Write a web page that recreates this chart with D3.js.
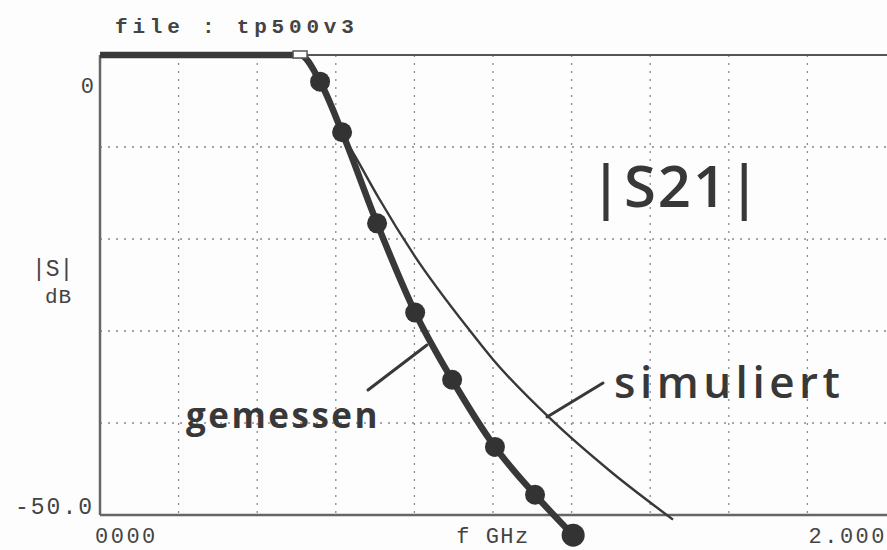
<!DOCTYPE html>
<html>
<head>
<meta charset="utf-8">
<script src="https://cdn.jsdelivr.net/npm/d3@7"></script>
<style>
  body { margin: 0; background: #fdfdfd; }
  svg { display: block; }
</style>
</head>
<body>
<script>
// measured |S21| (thick line with dots)
var measFreq = [0, 0.509, 0.56, 0.616, 0.705, 0.802, 0.896, 1.005, 1.107, 1.204];
var measDb   = [0, 0, -2.9, -8.4, -18.3, -28.0, -35.3, -42.6, -47.8, -52.2];
var measDots = [2, 3, 4, 5, 6, 7, 8, 9]; // indices that carry a dot

// simulated |S21| (thin line)
var simFreq = [0, 0.509, 0.54, 0.58, 0.616, 0.66, 0.71, 0.80, 0.94, 1.00, 1.15, 1.30, 1.458];
var simDb   = [0, 0, -1.5, -4.6, -8.4, -11.8, -15.6, -21.8, -29.9, -33.1, -39.7, -45.3, -50.5];

var xTicks = [0, 0.2, 0.4, 0.6, 0.8, 1.0, 1.2, 1.4, 1.6, 1.8, 2.0];
var yTicks = [0, -10, -20, -30, -40, -50];

var width = 887, height = 550;
var ink = "#383838";

var svg = d3.select("body").append("svg")
    .attr("width", width)
    .attr("height", height);

var x = d3.scaleLinear().domain([0, 2]).range([100, 886]);
var y = d3.scaleLinear().domain([0, -50]).range([55, 515]);

// dotted grid
svg.append("g").selectAll("line.v")
    .data(xTicks.slice(1, -1))
  .enter().append("line")
    .attr("x1", d => x(d)).attr("x2", d => x(d))
    .attr("y1", y(0)).attr("y2", y(-50))
    .attr("stroke", "#8a8a8a")
    .attr("stroke-width", 1.3)
    .attr("stroke-dasharray", "2,6");

svg.append("g").selectAll("line.h")
    .data(yTicks.slice(1, -1))
  .enter().append("line")
    .attr("x1", x(0)).attr("x2", x(2))
    .attr("y1", d => y(d)).attr("y2", d => y(d))
    .attr("stroke", "#8a8a8a")
    .attr("stroke-width", 1.3)
    .attr("stroke-dasharray", "2,6");

// frame
svg.append("line")
    .attr("x1", x(0)).attr("x2", x(2) + 1)
    .attr("y1", y(0)).attr("y2", y(0))
    .attr("stroke", "#555").attr("stroke-width", 2);
svg.append("line")
    .attr("x1", x(0)).attr("x2", x(0))
    .attr("y1", y(0)).attr("y2", y(-50))
    .attr("stroke", "#666").attr("stroke-width", 2.5);
svg.append("line")
    .attr("x1", x(0)).attr("x2", x(2) + 1)
    .attr("y1", y(-50)).attr("y2", y(-50))
    .attr("stroke", "#666").attr("stroke-width", 2.5);

var line = d3.line()
    .x(d => x(d[0]))
    .y(d => y(d[1]))
    .curve(d3.curveMonotoneX);

var simPts = simFreq.map((f, i) => [f, simDb[i]]);
var measPts = measFreq.map((f, i) => [f, measDb[i]]);

svg.append("path")
    .attr("d", line(simPts))
    .attr("fill", "none")
    .attr("stroke", ink)
    .attr("stroke-width", 2.4);

svg.append("path")
    .attr("d", line(measPts))
    .attr("fill", "none")
    .attr("stroke", ink)
    .attr("stroke-width", 6.5)
    .attr("stroke-linejoin", "round");

svg.append("g").selectAll("circle")
    .data(measDots)
  .enter().append("circle")
    .attr("cx", i => x(measFreq[i]))
    .attr("cy", i => y(measDb[i]))
    .attr("r", (i, k) => k === measDots.length - 1 ? 11.5 : 10)
    .attr("fill", "#333");

// small open marker where the roll-off starts
svg.append("rect")
    .attr("x", x(measFreq[1]) - 7)
    .attr("y", y(0) - 4)
    .attr("width", 14)
    .attr("height", 7)
    .attr("fill", "#fdfdfd")
    .attr("stroke", "#555")
    .attr("stroke-width", 1.5);

// printed labels
var mono = "'Liberation Mono', 'DejaVu Sans Mono', monospace";

svg.append("text")
    .attr("x", 115).attr("y", 33)
    .attr("font-family", mono).attr("font-weight", "bold")
    .attr("font-size", 21).attr("letter-spacing", 4.8)
    .attr("fill", "#444")
    .text("file : tp500v3");

svg.append("text")
    .attr("x", 94).attr("y", y(0) + 38)
    .attr("text-anchor", "end")
    .attr("font-family", mono).attr("font-size", 22)
    .attr("fill", "#444")
    .text("0");

svg.append("text")
    .attr("x", 94).attr("y", y(-50) - 1)
    .attr("text-anchor", "end")
    .attr("font-family", mono).attr("font-size", 23).attr("letter-spacing", 2)
    .attr("fill", "#444")
    .text("-50.0");

svg.append("text")
    .attr("x", 32).attr("y", 276)
    .attr("font-family", mono).attr("font-size", 23)
    .attr("fill", "#444")
    .text("|S|");

svg.append("text")
    .attr("x", 45).attr("y", 303)
    .attr("font-family", mono).attr("font-size", 21).attr("letter-spacing", 1)
    .attr("fill", "#444")
    .text("dB");

svg.append("text")
    .attr("x", x(0) - 5).attr("y", 543)
    .attr("font-family", mono).attr("font-size", 22).attr("letter-spacing", 2.5)
    .attr("fill", "#444")
    .text("0000");

svg.append("text")
    .attr("x", x(1.0)).attr("y", 543)
    .attr("text-anchor", "middle")
    .attr("font-family", mono).attr("font-size", 22).attr("letter-spacing", 1.5)
    .attr("fill", "#444")
    .text("f GHz");

svg.append("text")
    .attr("x", x(2) + 1).attr("y", 543)
    .attr("text-anchor", "end")
    .attr("font-family", mono).attr("font-size", 22).attr("letter-spacing", 2.5)
    .attr("fill", "#444")
    .text("2.000");

// handwritten annotations
var hand = "'Open Sans', 'Noto Sans', sans-serif";

svg.append("text")
    .attr("x", 590).attr("y", 207)
    .attr("font-family", hand).attr("font-size", 58).attr("font-weight", 600)
    .attr("letter-spacing", 2)
    .attr("fill", ink)
    .text("|S21|");

svg.append("text")
    .attr("x", 186).attr("y", 428)
    .attr("font-family", hand).attr("font-size", 35).attr("font-weight", 700)
    .attr("letter-spacing", 2.5)
    .attr("fill", ink)
    .text("gemessen");

svg.append("text")
    .attr("x", 614).attr("y", 398)
    .attr("font-family", hand).attr("font-size", 44).attr("font-weight", 600)
    .attr("letter-spacing", 4.5)
    .attr("fill", ink)
    .text("simuliert");

svg.append("line")
    .attr("x1", 368).attr("y1", 390).attr("x2", 427).attr("y2", 345)
    .attr("stroke", ink).attr("stroke-width", 3).attr("stroke-linecap", "round");

svg.append("line")
    .attr("x1", 547).attr("y1", 417).attr("x2", 603).attr("y2", 383)
    .attr("stroke", ink).attr("stroke-width", 3).attr("stroke-linecap", "round");
</script>
</body>
</html>
